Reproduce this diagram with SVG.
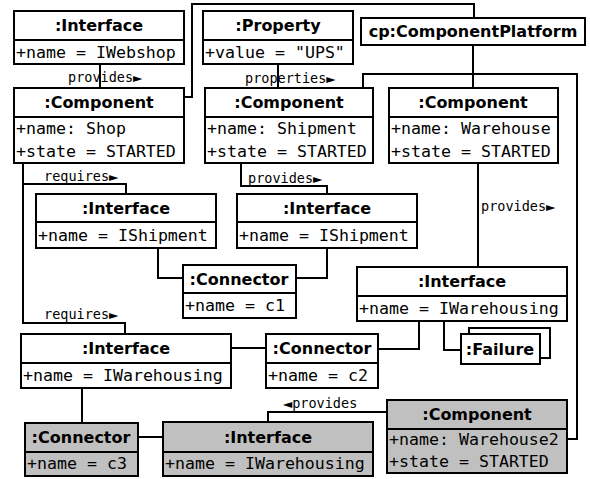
<svg xmlns="http://www.w3.org/2000/svg" width="590" height="479" viewBox="0 0 590 479">
<style>
.b{fill:#fff;stroke:#000;stroke-width:2}
.g{fill:#c0c0c0;stroke:#000;stroke-width:2}
.h{font-family:"DejaVu Sans",sans-serif;font-weight:bold;font-size:16px;text-anchor:middle;fill:#000}
.a{font-family:"DejaVu Sans Mono",monospace;font-size:16.6px;fill:#000}
.l{font-family:"DejaVu Sans Mono",monospace;font-size:13.5px;fill:#000}
.t{font-family:"DejaVu Sans",sans-serif;font-size:12px}
.c{fill:none;stroke:#000;stroke-width:2}
</style>
<rect width="590" height="479" fill="#fff"/>
<g id="connectors">
<path class="c" d="M100 64V88"/>
<path class="c" d="M184 97H192V4H474V18"/>
<path class="c" d="M278 64V88"/>
<path class="c" d="M473 45V88"/>
<path class="c" d="M363 88V74H577V439H567"/>
<path class="c" d="M23 163V323H125V334"/>
<path class="c" d="M23 184H126V194"/>
<path class="c" d="M158 248V278H183"/>
<path class="c" d="M327 248V278H296"/>
<path class="c" d="M241 163V186H327V194"/>
<path class="c" d="M478 163V267"/>
<path class="c" d="M419 321V349H378"/>
<path class="c" d="M444 321V350H461"/>
<path class="c" d="M231 348H266"/>
<path class="c" d="M82 388V423"/>
<path class="c" d="M138 437H163"/>
<path class="c" d="M268 422V412H387"/>
<text class="l" x="68" y="82">provides<tspan class="t">►</tspan></text>
<text class="l" x="245" y="83">properties<tspan class="t">►</tspan></text>
<text class="l" x="44" y="181">requires<tspan class="t">►</tspan></text>
<text class="l" x="248" y="183">provides<tspan class="t">►</tspan></text>
<text class="l" x="481" y="211">provides<tspan class="t">►</tspan></text>
<text class="l" x="44" y="319">requires<tspan class="t">►</tspan></text>
<text class="l" x="283" y="408"><tspan class="t">◄</tspan>provides</text>
</g>
<g id="iface_webshop">
<rect class="b" x="14" y="11" width="170" height="29"/><rect class="b" x="14" y="40" width="170" height="24"/>
<text class="h" x="99" y="31">:Interface</text><text class="a" x="16" y="58">+name = IWebshop</text>
</g>
<g id="property">
<rect class="b" x="203" y="11" width="150" height="29"/><rect class="b" x="203" y="40" width="150" height="24"/>
<text class="h" x="278" y="31">:Property</text><text class="a" x="205" y="58">+value = "UPS"</text>
</g>
<g id="platform">
<rect class="b" x="361" y="18" width="224" height="27"/>
<text class="h" x="473" y="37">cp:ComponentPlatform</text>
</g>
<g id="comp_shop">
<rect class="b" x="14" y="88" width="170" height="29"/><rect class="b" x="14" y="117" width="170" height="46"/>
<text class="h" x="99" y="108">:Component</text><text class="a" x="16" y="134">+name: Shop</text><text class="a" x="16" y="157">+state = STARTED</text>
</g>
<g id="comp_shipment">
<rect class="b" x="205" y="88" width="168" height="29"/><rect class="b" x="205" y="117" width="168" height="46"/>
<text class="h" x="289" y="108">:Component</text><text class="a" x="207" y="134">+name: Shipment</text><text class="a" x="207" y="157">+state = STARTED</text>
</g>
<g id="comp_warehouse">
<rect class="b" x="389" y="88" width="169" height="29"/><rect class="b" x="389" y="117" width="169" height="46"/>
<text class="h" x="473" y="108">:Component</text><text class="a" x="391" y="134">+name: Warehouse</text><text class="a" x="391" y="157">+state = STARTED</text>
</g>
<g id="iface_shipment1">
<rect class="b" x="36" y="194" width="180" height="28"/><rect class="b" x="36" y="222" width="180" height="26"/>
<text class="h" x="126" y="214">:Interface</text><text class="a" x="38" y="241">+name = IShipment</text>
</g>
<g id="iface_shipment2">
<rect class="b" x="237" y="194" width="180" height="28"/><rect class="b" x="237" y="222" width="180" height="26"/>
<text class="h" x="327" y="214">:Interface</text><text class="a" x="239" y="241">+name = IShipment</text>
</g>
<g id="conn_c1">
<rect class="b" x="183" y="265" width="113" height="28"/><rect class="b" x="183" y="293" width="113" height="25"/>
<text class="h" x="239" y="285">:Connector</text><text class="a" x="185" y="311">+name = c1</text>
</g>
<g id="iface_warehousing1">
<rect class="b" x="357" y="267" width="210" height="29"/><rect class="b" x="357" y="296" width="210" height="25"/>
<text class="h" x="462" y="287">:Interface</text><text class="a" x="359" y="314">+name = IWarehousing</text>
</g>
<g id="failure">
<rect class="b" x="469" y="328" width="81" height="30"/>
<rect class="b" x="461" y="334" width="79" height="30"/>
<text class="h" x="500" y="355">:Failure</text>
</g>
<g id="iface_warehousing2">
<rect class="b" x="21" y="334" width="210" height="29"/><rect class="b" x="21" y="363" width="210" height="25"/>
<text class="h" x="126" y="354">:Interface</text><text class="a" x="23" y="381">+name = IWarehousing</text>
</g>
<g id="conn_c2">
<rect class="b" x="266" y="334" width="112" height="29"/><rect class="b" x="266" y="363" width="112" height="25"/>
<text class="h" x="322" y="354">:Connector</text><text class="a" x="268" y="381">+name = c2</text>
</g>
<g id="conn_c3">
<rect class="g" x="25" y="423" width="113" height="29"/><rect class="g" x="25" y="452" width="113" height="24"/>
<text class="h" x="81" y="443">:Connector</text><text class="a" x="27" y="469">+name = c3</text>
</g>
<g id="iface_warehousing3">
<rect class="g" x="163" y="422" width="210" height="30"/><rect class="g" x="163" y="452" width="210" height="24"/>
<text class="h" x="268" y="443">:Interface</text><text class="a" x="165" y="469">+name = IWarehousing</text>
</g>
<g id="comp_warehouse2">
<rect class="g" x="387" y="400" width="180" height="29"/><rect class="g" x="387" y="429" width="180" height="44"/>
<text class="h" x="477" y="420">:Component</text><text class="a" x="389" y="445">+name: Warehouse2</text><text class="a" x="389" y="467">+state = STARTED</text>
</g>
</svg>
